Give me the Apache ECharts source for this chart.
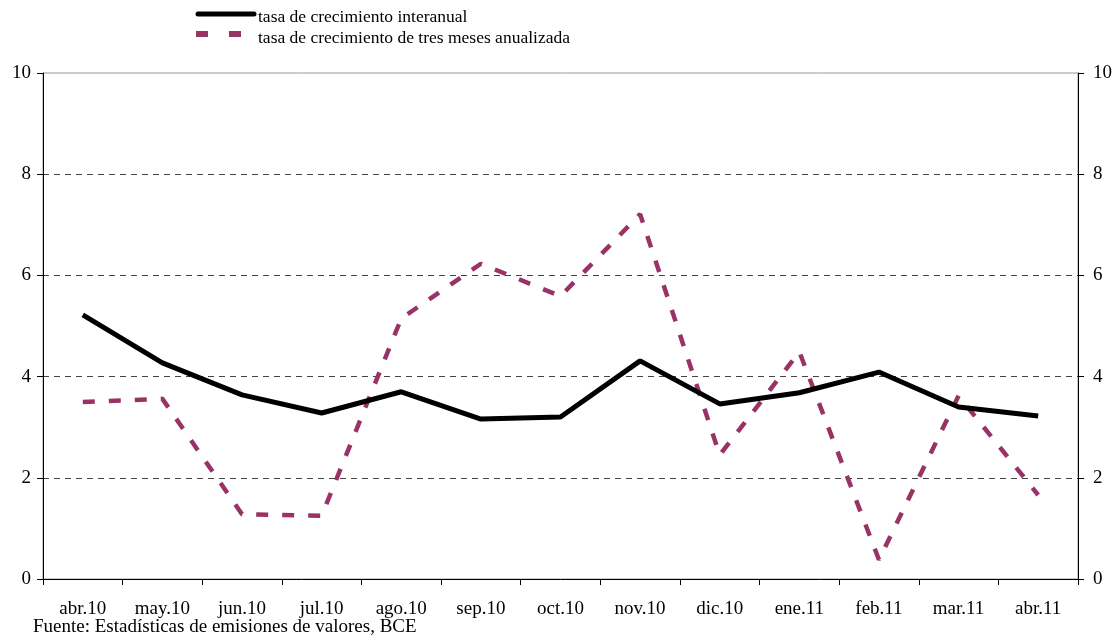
<!DOCTYPE html>
<html><head><meta charset="utf-8">
<script src="https://cdn.jsdelivr.net/npm/echarts@6/dist/echarts.min.js"></script>
<style>html,body{margin:0;padding:0;background:#fff}#c{width:1118px;height:642px}</style>
</head><body><div id="c"></div>
<script>
const categories = ['abr.10','may.10','jun.10','jul.10','ago.10','sep.10','oct.10','nov.10','dic.10','ene.11','feb.11','mar.11','abr.11'];
const interanual = [5.22,4.27,3.64,3.28,3.70,3.16,3.20,4.31,3.46,3.68,4.09,3.40,3.22];
const tresMeses = [3.50,3.56,1.28,1.25,5.15,6.23,5.59,7.21,2.45,4.49,0.38,3.62,1.66];
const seriesNames = ['tasa de crecimiento interanual','tasa de crecimiento de tres meses anualizada'];
const sourceText = 'Fuente: Estadísticas de emisiones de valores, BCE';

const font = 'Liberation Serif';
const chart = echarts.init(document.getElementById('c'));
const yAx = (pos, grid) => ({
  type:'value', min:0, max:10, interval:2, position:pos,
  axisLine:{show:true, lineStyle:{color:'#000', width:1}},
  axisTick:{show:true, inside:false, length:6, lineStyle:{color:'#000'}},
  axisLabel:{color:'#000', fontFamily:font, fontSize:19, margin:pos==='left'?12:15},
  splitLine:{show:grid, showMinLine:false, showMaxLine:false, lineStyle:{color:'#444', type:[6,5], width:1}}
});
chart.setOption({
  animation:false,
  textStyle:{fontFamily:font},
  grid:{left:43, right:40, top:73, bottom:63, show:true, borderColor:'#999', borderWidth:1, backgroundColor:'transparent'},
  xAxis:{
    type:'category', data:categories, boundaryGap:true,
    axisLine:{lineStyle:{color:'#000', width:1}},
    axisTick:{show:true, inside:false, length:6, lineStyle:{color:'#000'}},
    axisLabel:{color:'#000', fontFamily:font, fontSize:19, margin:21}
  },
  yAxis:[yAx('left', true), yAx('right', false)],
  graphic:[
    {type:'line', shape:{x1:198, y1:14, x2:254, y2:14}, style:{stroke:'#000', lineWidth:5, lineCap:'round'}},
    {type:'text', left:258, top:8, style:{text:seriesNames[0], font:'17.5px "Liberation Serif"', fill:'#000'}},
    {type:'line', shape:{x1:196, y1:34, x2:244, y2:34}, style:{stroke:'#993366', lineWidth:6, lineDash:[12,21]}},
    {type:'text', left:258, top:29, style:{text:seriesNames[1], font:'17.5px "Liberation Serif"', fill:'#000'}},
    {type:'text', left:33, top:618, style:{text:sourceText, font:'19px "Liberation Serif"', fill:'#000'}}
  ],
  series:[
    {name:seriesNames[0], type:'line', data:interanual, symbol:'none', z:3,
     lineStyle:{color:'#000', width:5}, itemStyle:{color:'#000'}},
    {name:seriesNames[1], type:'line', data:tresMeses, symbol:'none', z:2,
     lineStyle:{color:'#993366', width:4.5, type:[12,14]}, itemStyle:{color:'#993366'}}
  ]
});
</script></body></html>
